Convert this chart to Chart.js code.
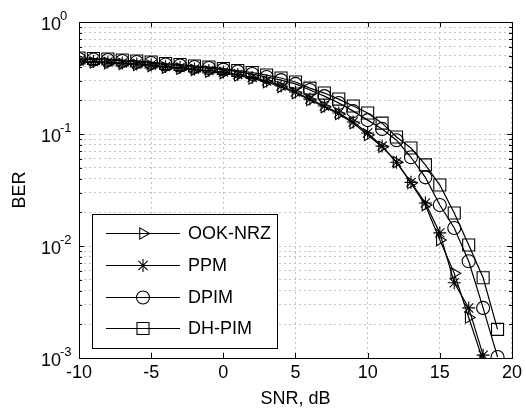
<!DOCTYPE html>
<html>
<head>
<meta charset="utf-8">
<script src="https://cdn.jsdelivr.net/npm/chart.js@4.4.0/dist/chart.umd.min.js"></script>
<style>
  html, body { margin: 0; padding: 0; background: #fff; }
  #wrap { width: 526px; height: 415px; }
</style>
</head>
<body>
<div id="wrap"><canvas id="ber-chart" width="526" height="415"></canvas></div>
<script>
// data (BER vs SNR in dB)
const snrDb = [-10, -9, -8, -7, -6, -5, -4, -3, -2, -1, 0, 1, 2, 3, 4,
  5, 6, 7, 8, 9, 10, 11, 12, 13, 14, 15, 16, 17, 18, 19];
const ookNrz = [0.439, 0.435, 0.430, 0.422, 0.413, 0.405, 0.392, 0.384, 0.373, 0.361,
  0.350, 0.333, 0.313, 0.291, 0.263, 0.232, 0.201, 0.174, 0.151, 0.125,
  0.098, 0.077, 0.056, 0.0365, 0.0232, 0.0113, 0.0057, 0.0023, 0.00094];
const ppm = [0.449, 0.444, 0.439, 0.430, 0.422, 0.413, 0.401, 0.392, 0.380, 0.369,
  0.358, 0.340, 0.320, 0.297, 0.268, 0.237, 0.205, 0.178, 0.154, 0.128,
  0.102, 0.078, 0.056, 0.037, 0.0242, 0.0131, 0.0047, 0.0028, 0.00106];
const dpim = [0.467, 0.463, 0.458, 0.449, 0.439, 0.430, 0.417, 0.409, 0.396, 0.388,
  0.376, 0.361, 0.343, 0.323, 0.303, 0.280, 0.247, 0.218, 0.189, 0.160,
  0.133, 0.111, 0.088, 0.062, 0.041, 0.0232, 0.0145, 0.0073, 0.0028, 0.00102];
const dhPim = [0.477, 0.472, 0.467, 0.458, 0.449, 0.439, 0.426, 0.417, 0.405, 0.396,
  0.384, 0.369, 0.354, 0.336, 0.316, 0.291, 0.257, 0.232, 0.205, 0.178,
  0.154, 0.125, 0.094, 0.075, 0.053, 0.035, 0.0197, 0.0102, 0.0052, 0.0018];

const seriesNames = ["OOK-NRZ", "PPM", "DPIM", "DH-PIM"];
const xTicks = [-10, -5, 0, 5, 10, 15, 20];
const yDecades = [1e-3, 1e-2, 1e-1, 1];
const yExponents = ["-3", "-2", "-1", "0"];

const FONT = "'Liberation Sans', Arial, Helvetica, sans-serif";

// all log ticks: 1..9 x 10^n (grid + minor tick marks)
const yAllTicks = [];
yDecades.slice(0, -1).forEach((d) => {
  for (let k = 1; k <= 9; k++) yAllTicks.push(+(k * d).toPrecision(3));
});
yAllTicks.push(1);

const toPoints = (ys) => ys.map((y, i) => ({ x: snrDb[i], y }));

const markerStyle = [
  { pointStyle: "triangle", rotation: 90, radius: 6.5 },
  { pointStyle: "star", rotation: 0, radius: 6.5 },
  { pointStyle: "circle", rotation: 0, radius: 6.5 },
  { pointStyle: "rect", rotation: 0, radius: 8.5 },
];

const datasets = [ookNrz, ppm, dpim, dhPim].map((vals, i) => ({
  label: seriesNames[i],
  data: toPoints(vals),
  borderColor: "#000",
  borderWidth: 1.2,
  pointStyle: markerStyle[i].pointStyle,
  pointRotation: markerStyle[i].rotation,
  pointRadius: markerStyle[i].radius,
  pointHoverRadius: markerStyle[i].radius,
  pointBorderColor: "#000",
  pointBorderWidth: 1.1,
  pointBackgroundColor: "rgba(0,0,0,0)",
  tension: 0,
  fill: false,
}));

// frame, inward ticks, 10^n labels and the boxed legend
const framePlugin = {
  id: "matlabFrame",
  afterDraw(chart) {
    const { ctx, chartArea } = chart;
    const { left, right, top, bottom } = chartArea;
    const xs = chart.scales.x;
    const ys = chart.scales.y;

    ctx.save();
    ctx.strokeStyle = "#000";
    ctx.lineWidth = 1;
    ctx.strokeRect(Math.round(left) + 0.5, Math.round(top) + 0.5,
      Math.round(right - left), Math.round(bottom - top));

    // tick marks pointing inwards
    ctx.beginPath();
    xTicks.forEach((v) => {
      const px = Math.round(xs.getPixelForValue(v)) + 0.5;
      ctx.moveTo(px, bottom); ctx.lineTo(px, bottom - 5);
      ctx.moveTo(px, top); ctx.lineTo(px, top + 5);
    });
    yAllTicks.forEach((v) => {
      const py = Math.round(ys.getPixelForValue(v)) + 0.5;
      const len = yDecades.includes(v) ? 5 : 3;
      ctx.moveTo(left, py); ctx.lineTo(left + len, py);
      ctx.moveTo(right, py); ctx.lineTo(right - len, py);
    });
    ctx.stroke();

    // y labels as 10 with a raised exponent
    ctx.fillStyle = "#000";
    ctx.textAlign = "left";
    ctx.textBaseline = "middle";
    yDecades.forEach((v, i) => {
      const py = ys.getPixelForValue(v);
      ctx.font = "18px " + FONT;
      ctx.fillText("10", 41, py + 3);
      ctx.font = "13px " + FONT;
      ctx.fillText(yExponents[i], 60, py - 6);
    });

    // legend box
    const box = { x: 92, y: 214, w: 185, h: 134 };
    ctx.fillStyle = "#fff";
    ctx.fillRect(box.x, box.y, box.w, box.h);
    ctx.strokeRect(box.x + 0.5, box.y + 0.5, box.w, box.h);
    const rowY = [233, 265, 297, 328];
    chart.data.datasets.forEach((ds, i) => {
      const y = rowY[i] + 0.5;
      ctx.strokeStyle = "#000";
      ctx.lineWidth = 1.2;
      ctx.beginPath();
      ctx.moveTo(106, y); ctx.lineTo(180, y);
      ctx.stroke();
      ctx.lineWidth = 1.1;
      ctx.fillStyle = "rgba(0,0,0,0)";
      Chart.helpers.drawPoint(ctx, {
        pointStyle: ds.pointStyle,
        rotation: ds.pointRotation,
        radius: ds.pointRadius,
        borderWidth: 1.1,
      }, 143, y);
      ctx.fillStyle = "#000";
      ctx.font = "18px " + FONT;
      ctx.textAlign = "left";
      ctx.textBaseline = "middle";
      ctx.fillText(ds.label, 188, y + 1);
    });
    ctx.restore();
  },
};

const gridStyle = { color: "#c4c4c4", lineWidth: 1, drawTicks: false };
const gridBorder = { display: false, dash: [2, 3] };

new Chart(document.getElementById("ber-chart").getContext("2d"), {
  type: "line",
  data: { datasets },
  options: {
    responsive: false,
    animation: false,
    devicePixelRatio: 1,
    layout: { padding: { left: 0, right: 13, top: 22, bottom: 0 } },
    plugins: { legend: { display: false }, tooltip: { enabled: false } },
    scales: {
      x: {
        type: "linear",
        min: -10,
        max: 20,
        afterFit: (s) => { s.height = 57; },
        afterBuildTicks: (s) => { s.ticks = xTicks.map((v) => ({ value: v })); },
        ticks: { color: "#000", padding: 4, font: { family: FONT, size: 18 } },
        grid: gridStyle,
        border: gridBorder,
        title: {
          display: true,
          text: "SNR, dB",
          color: "#000",
          font: { family: FONT, size: 18 },
          padding: { top: 0, bottom: 5 },
        },
      },
      y: {
        type: "logarithmic",
        min: 1e-3,
        max: 1,
        afterFit: (s) => { s.width = 79; },
        afterBuildTicks: (s) => { s.ticks = yAllTicks.map((v) => ({ value: v })); },
        ticks: { display: false },
        grid: gridStyle,
        border: gridBorder,
        title: {
          display: true,
          text: "BER",
          color: "#000",
          font: { family: FONT, size: 18 },
          padding: { top: 9, bottom: 0 },
        },
      },
    },
  },
  plugins: [framePlugin],
});
</script>
</body>
</html>
